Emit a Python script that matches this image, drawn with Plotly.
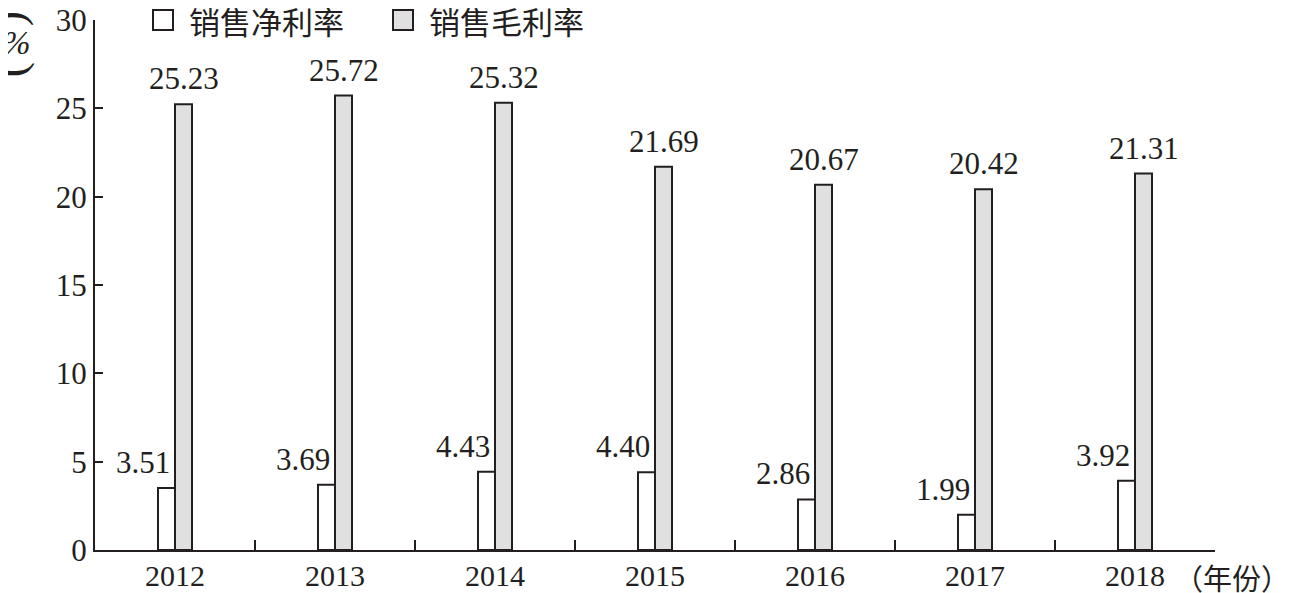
import plotly.graph_objects as go

years = ["2012", "2013", "2014", "2015", "2016", "2017", "2018"]
net_margin = [3.51, 3.69, 4.43, 4.40, 2.86, 1.99, 3.92]
gross_margin = [25.23, 25.72, 25.32, 21.69, 20.67, 20.42, 21.31]
net_labels = ["3.51", "3.69", "4.43", "4.40", "2.86", "1.99", "3.92"]
gross_labels = ["25.23", "25.72", "25.32", "21.69", "20.67", "20.42", "21.31"]
series_names = ["销售净利率", "销售毛利率"]

OFF = 8  # page body margin
W, H = 1298 - OFF, 593 - OFF
L, R, T, B = 95 - OFF, 83, 20 - OFF, 43
PW, PH = W - L - R, H - T - B
FONT = "Liberation Serif, Times New Roman, Noto Sans CJK SC, serif"
CJK = "Noto Sans CJK SC, Liberation Serif, serif"
INK = "#231f20"
GRAY = "#e0e0e0"
BARGAP = 0.7875

def px(x):
    return (x - OFF - L) / PW

def py(y):
    return (H - B - (y - OFF)) / PH

fig = go.Figure()
fig.add_trace(go.Bar(x=years, y=net_margin, name=series_names[0],
                     marker=dict(color="white", line=dict(color=INK, width=2))))
fig.add_trace(go.Bar(x=years, y=gross_margin, name=series_names[1],
                     marker=dict(color=GRAY, line=dict(color=INK, width=2))))

half = (1 - BARGAP) / 4
ann = []
for i, (v, t) in enumerate(zip(net_margin, net_labels)):
    ann.append(dict(x=i, y=v, xref="x", yref="y", text=t, showarrow=False,
                    xanchor="right", yanchor="bottom", xshift=-3, yshift=6,
                    font=dict(family=FONT, size=31, color=INK)))
for i, (v, t) in enumerate(zip(gross_margin, gross_labels)):
    ann.append(dict(x=i + half, y=v, xref="x", yref="y", text=t, showarrow=False,
                    xanchor="center", yanchor="bottom", yshift=6,
                    font=dict(family=FONT, size=31, color=INK)))

# y-axis unit title (vertical "（%）")
ann.append(dict(x=px(17), y=py(18), xref="paper", yref="paper", text="(",
                textangle=90, showarrow=False, xanchor="center", yanchor="middle",
                font=dict(family=FONT, size=46, color=INK)))
ann.append(dict(x=px(17), y=py(43), xref="paper", yref="paper", text="<i>%</i>",
                showarrow=False, xanchor="center", yanchor="middle",
                font=dict(family=FONT, size=33, color=INK)))
ann.append(dict(x=px(17), y=py(69), xref="paper", yref="paper", text=")",
                textangle=90, showarrow=False, xanchor="center", yanchor="middle",
                font=dict(family=FONT, size=46, color=INK)))
# x-axis unit title
ann.append(dict(x=px(1172), y=py(577), xref="paper", yref="paper",
                text="（年份）", showarrow=False, xanchor="left", yanchor="middle",
                font=dict(family=CJK, size=29, color=INK)))

# custom legend
shapes = []
legend_items = [(153, 187, "white"), (393, 427, GRAY)]
for (sx, tx, col), name in zip(legend_items, series_names):
    shapes.append(dict(type="rect", xref="paper", yref="paper",
                       x0=px(sx), x1=px(sx + 20), y0=py(30), y1=py(10),
                       fillcolor=col, line=dict(color=INK, width=2)))
    ann.append(dict(x=px(tx), y=py(20), xref="paper", yref="paper", text=name,
                    showarrow=False, xanchor="left", yanchor="middle",
                    font=dict(family=CJK, size=31, color=INK)))

fig.update_layout(
    width=W, height=H, margin=dict(l=L, r=R, t=T, b=B, autoexpand=False),
    paper_bgcolor="white", plot_bgcolor="white",
    barmode="group", bargap=BARGAP, bargroupgap=0,
    showlegend=False, annotations=ann, shapes=shapes,
    font=dict(family=FONT, size=30, color=INK),
)
fig.update_xaxes(type="category", showline=True, linecolor=INK, linewidth=2,
                 ticks="inside", tickson="boundaries", ticklen=10, tickwidth=2,
                 tickcolor=INK, showgrid=False, zeroline=False, automargin=False,
                 ticklabeloverflow="allow", ticklabelstandoff=-2,
                 tickfont=dict(family=FONT, size=30, color=INK))
fig.update_yaxes(range=[0, 30], dtick=5, showline=True, linecolor=INK, linewidth=2,
                 ticks="inside", ticklen=8, tickwidth=2, tickcolor=INK,
                 showgrid=False, zeroline=False, automargin=False,
                 ticklabeloverflow="allow",
                 tickfont=dict(family=FONT, size=31, color=INK))

fig.write_html("out.html")
